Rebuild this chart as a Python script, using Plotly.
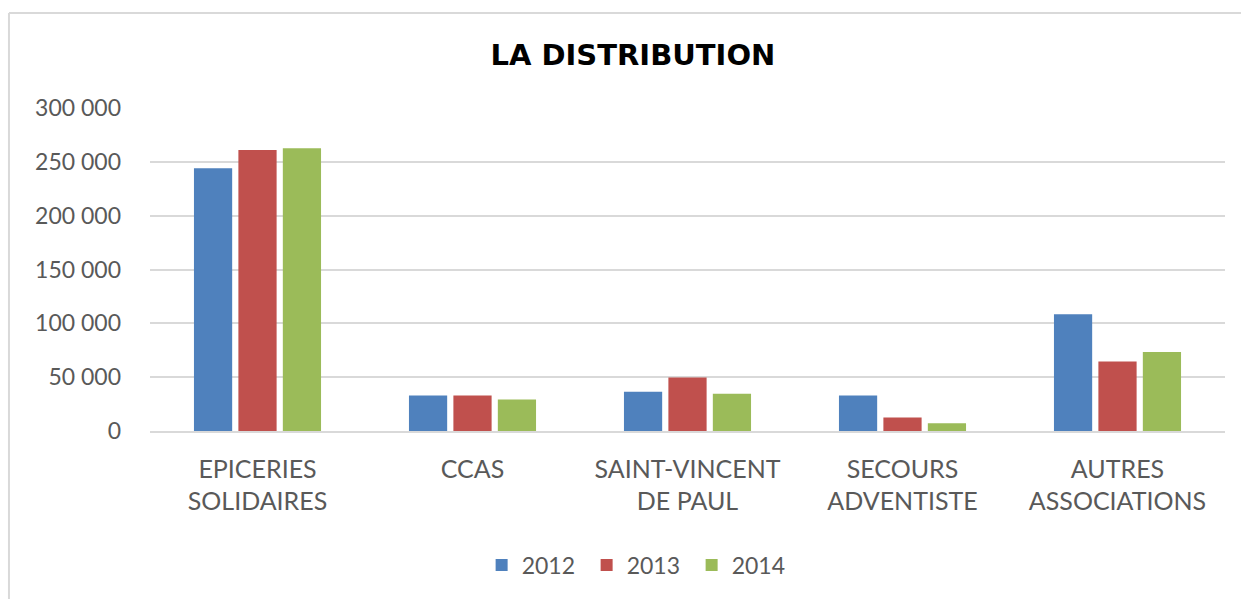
import plotly.graph_objects as go

categories = ["EPICERIES<br>SOLIDAIRES", "CCAS", "SAINT-VINCENT<br>DE PAUL", "SECOURS<br>ADVENTISTE", "AUTRES<br>ASSOCIATIONS"]
years = ["2012", "2013", "2014"]
v2012 = [244000, 33000, 36500, 33000, 108500]
v2013 = [261000, 33000, 49700, 12500, 64600]
v2014 = [262700, 29300, 34500, 7200, 73300]
colors = ["#4F81BD", "#C0504D", "#9BBB59"]
tick_vals = [0, 50000, 100000, 150000, 200000, 250000, 300000]
tick_text = ["0", "50 000", "100 000", "150 000", "200 000", "250 000", "300 000"]

fig = go.Figure()
for name, vals, col in zip(years, [v2012, v2013, v2014], colors):
    fig.add_trace(go.Bar(name=name, x=categories, y=vals, marker_color=col,
                         marker_line_width=0))

font_fam = "Lato, Open Sans, sans-serif"
border = "#D9D9D9"
fig.update_layout(
    width=1241, height=599,
    paper_bgcolor="white", plot_bgcolor="white",
    margin=dict(l=150, r=16, t=108, b=168),
    barmode="group", bargap=0.38, bargroupgap=0.14,
    title=dict(text="<b>LA DISTRIBUTION</b>", x=0.51, xanchor="center", y=0.908, yanchor="middle",
               font=dict(family="DejaVu Sans", size=29, color="black")),
    font=dict(family=font_fam, size=22, color="#595959"),
    legend=dict(orientation="h", x=0.455, xanchor="center", y=-0.415, yanchor="middle",
                font=dict(size=23, color="#595959"), traceorder="normal", entrywidth=60),
    xaxis=dict(showgrid=False, showline=True, linecolor=border, linewidth=1.5,
               tickfont=dict(size=25, color="#595959"), ticks="", ticklabelstandoff=15),
    yaxis=dict(range=[0, 300000], tickvals=tick_vals, ticktext=tick_text,
               gridcolor=border, gridwidth=1.5, zeroline=False,
               tickfont=dict(size=23, color="#595959"), ticklabelstandoff=28),
    shapes=[
        dict(type="line", xref="paper", yref="paper", x0=-0.1312, x1=1.02, y0=1.294, y1=1.294,
             line=dict(color=border, width=2)),
        dict(type="line", xref="paper", yref="paper", x0=-0.1312, x1=-0.1312, y0=1.294, y1=-0.53,
             line=dict(color=border, width=2)),
    ],
)
fig.write_html("out.html")
